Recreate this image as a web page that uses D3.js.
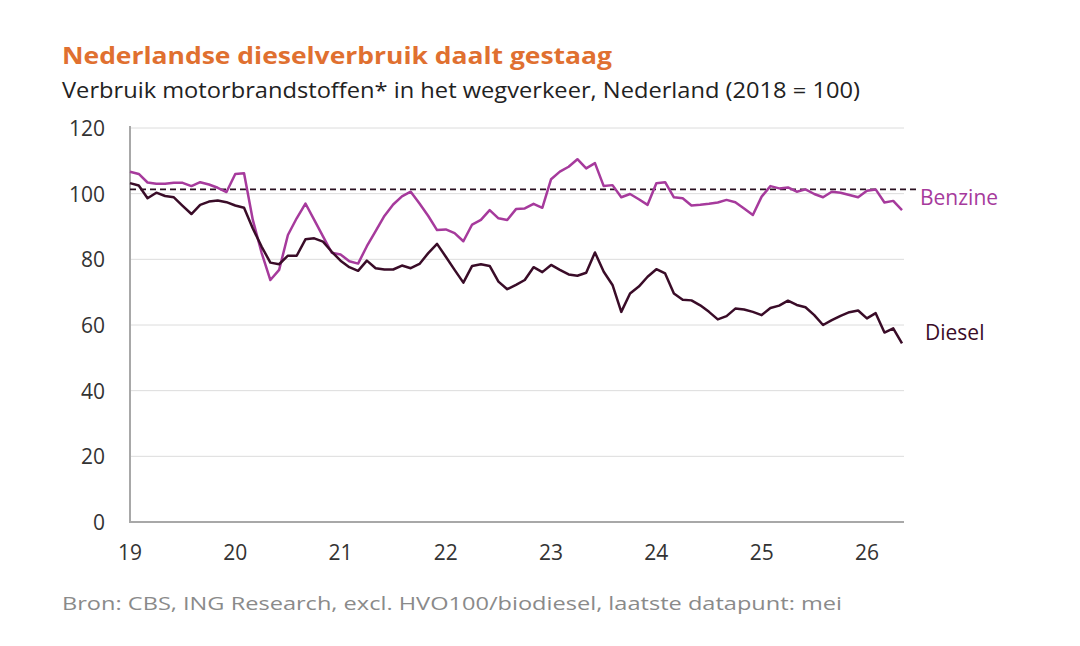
<!DOCTYPE html>
<meta charset="utf-8">
<style>
body { margin: 0; background: #fff; }
text { font-family: "Open Sans", "Noto Sans", sans-serif; }
</style>
<svg width="1080" height="646"></svg>
<script src="https://d3js.org/d3.v7.min.js"></script>
<script>

// monthly, jan 2019 .. mei 2026
var benzine = [106.7,106,103.4,103,103,103.3,103.3,102.3,103.5,102.8,101.8,100.5,
  106,106.2,92,82,73.7,76.8,87.4,92.5,97,92,87,82,
  81.5,79.4,78.7,84,88.6,93.2,96.7,99.2,100.6,97,93.2,88.9,
  89.1,88,85.5,90.6,92,95,92.5,92,95.3,95.5,96.9,95.7,
  104.4,106.7,108.2,110.5,107.7,109.3,102.3,102.6,98.9,99.9,98.3,96.6,
  103.2,103.5,98.9,98.6,96.4,96.6,96.9,97.3,98.1,97.4,95.5,93.5,
  99.1,102.3,101.6,101.9,100.6,101.3,99.9,98.9,100.6,100.3,99.6,98.9,
  100.9,101.3,97.3,97.8,95];
var diesel = [103.2,102.5,98.6,100.3,99.3,98.9,96.3,93.8,96.6,97.6,97.9,97.4,
  96.4,95.7,89.4,83.9,79,78.5,81.1,81.1,86.1,86.4,85.4,82.3,
  79.6,77.6,76.5,79.6,77.3,76.9,76.9,78.1,77.3,78.6,81.9,84.7,
  80.8,76.8,72.9,78,78.5,78,73.2,70.9,72.2,73.7,77.6,76.1,
  78.3,76.8,75.4,75,75.9,82.1,76.2,72.2,64,69.6,71.7,74.7,
  77,75.7,69.6,67.7,67.5,66,64,61.7,62.7,65,64.7,64,
  63,65.2,65.9,67.4,66.1,65.4,63,60,61.5,62.8,63.9,64.4,
  62,63.6,57.7,59,54.4];
var reference = 101.3;
var yTicks = [0, 20, 40, 60, 80, 100, 120];
var xTicks = [19, 20, 21, 22, 23, 24, 25, 26];

var svg = d3.select("svg");
var x = d3.scaleLinear().domain([0, 88]).range([130, 902]);
var xYear = function(yy) { return x((yy - 19) * 12); };
var y = d3.scaleLinear().domain([0, 120]).range([522, 128]);

svg.append("text").attr("x", 62).attr("y", 64)
  .attr("fill", "#e07030").attr("font-size", 23).attr("font-weight", "bold")
  .attr("textLength", 550).attr("lengthAdjust", "spacingAndGlyphs")
  .text("Nederlandse dieselverbruik daalt gestaag");
svg.append("text").attr("x", 62).attr("y", 98)
  .attr("fill", "#222").attr("font-size", 21)
  .attr("textLength", 798).attr("lengthAdjust", "spacingAndGlyphs")
  .text("Verbruik motorbrandstoffen* in het wegverkeer, Nederland (2018 = 100)");
svg.append("text").attr("x", 62).attr("y", 610)
  .attr("fill", "#8a8a8a").attr("font-size", 19)
  .attr("textLength", 780).attr("lengthAdjust", "spacingAndGlyphs")
  .text("Bron: CBS, ING Research, excl. HVO100/biodiesel, laatste datapunt: mei");

// grid
svg.append("g").selectAll("line").data(yTicks.filter(function(d) { return d > 0; }))
  .join("line")
  .attr("x1", 130).attr("x2", 904)
  .attr("y1", function(d) { return y(d); }).attr("y2", function(d) { return y(d); })
  .attr("stroke", "#dcdcdc").attr("stroke-width", 1);

svg.append("g").selectAll("text").data(yTicks).join("text")
  .attr("x", 105).attr("y", function(d) { return y(d) + 8; })
  .attr("text-anchor", "end").attr("font-size", 21).attr("fill", "#333")
  .text(function(d) { return d; });

svg.append("g").selectAll("text").data(xTicks).join("text")
  .attr("x", function(d) { return xYear(d); }).attr("y", 560)
  .attr("text-anchor", "middle").attr("font-size", 21).attr("fill", "#333")
  .text(function(d) { return d; });

svg.append("line").attr("x1", 130).attr("x2", 130).attr("y1", 126).attr("y2", 522)
  .attr("stroke", "#a8a8a8").attr("stroke-width", 2);
svg.append("line").attr("x1", 129).attr("x2", 904).attr("y1", 522).attr("y2", 522)
  .attr("stroke", "#a8a8a8").attr("stroke-width", 2);

svg.append("line").attr("x1", 130).attr("x2", 917)
  .attr("y1", y(reference)).attr("y2", y(reference))
  .attr("stroke", "#2a1020").attr("stroke-width", 1.6).attr("stroke-dasharray", "6,4");

var line = d3.line().x(function(d, i) { return x(i); }).y(function(d) { return y(d); });

svg.append("path").datum(benzine).attr("d", line)
  .attr("fill", "none").attr("stroke", "#a63a9c").attr("stroke-width", 2.5)
  .attr("stroke-linejoin", "round");
svg.append("path").datum(diesel).attr("d", line)
  .attr("fill", "none").attr("stroke", "#3a0c28").attr("stroke-width", 2.5)
  .attr("stroke-linejoin", "round");

svg.append("text").attr("x", 920).attr("y", 205).attr("font-size", 21)
  .attr("fill", "#a63a9c").text("Benzine");
svg.append("text").attr("x", 925).attr("y", 340).attr("font-size", 21)
  .attr("fill", "#3a0c28").text("Diesel");
</script>
